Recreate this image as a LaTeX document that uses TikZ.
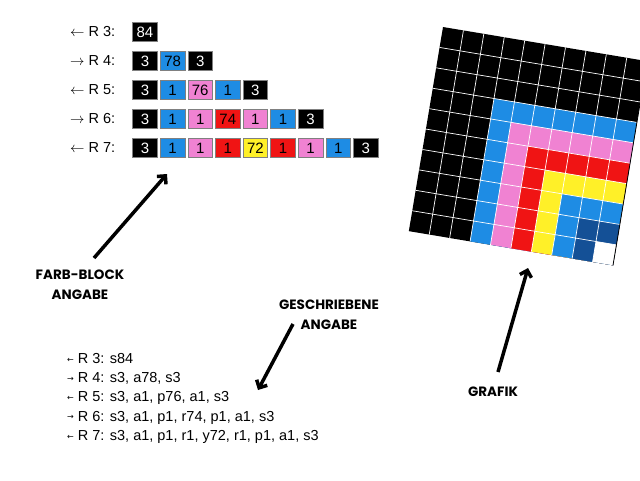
\documentclass[tikz,border=0pt]{standalone}
\usepackage{fontspec}
\setmainfont{Liberation Sans}
\newfontfamily\comicfont{Poppins}
\newfontfamily\pfeilfont{DejaVu Sans}
\usepackage{tikz}
\usetikzlibrary{arrows.meta}
\definecolor{cblau}{RGB}{30,140,228}
\definecolor{crosa}{RGB}{240,130,210}
\definecolor{crot}{RGB}{240,20,20}
\definecolor{cgelb}{RGB}{255,240,40}
\definecolor{cdunkel}{RGB}{20,80,150}
\tikzstyle{feld}=[draw=gray, line width=0.5pt, minimum width=24.6pt, minimum height=19pt, inner sep=0pt, font=\fontsize{15}{15}\selectfont]
\tikzstyle{sw}=[feld, fill=black, text=white]
\tikzstyle{bl}=[feld, fill=cblau]
\tikzstyle{rs}=[feld, fill=crosa]
\tikzstyle{rt}=[feld, fill=crot]
\tikzstyle{ge}=[feld, fill=cgelb]
\tikzstyle{reihe}=[anchor=west, inner sep=0pt, font=\fontsize{14.5}{14.5}\selectfont]
\tikzstyle{hinweis}=[align=center, inner sep=0pt, font=\comicfont\bfseries\fontsize{13.5}{20}\selectfont]
\tikzstyle{pfeil}=[line width=3.5pt, -{Straight Barb[length=6pt,width=12pt]}]
\newcommand{\lpf}{\raisebox{1.5pt}{\pfeilfont\fontsize{8}{8}\selectfont ←}}
\newcommand{\rpf}{\raisebox{1.5pt}{\pfeilfont\fontsize{8}{8}\selectfont →}}

\begin{document}
\begin{tikzpicture}[x=1pt, y=-1pt]
\useasboundingbox (0,0) rectangle (640,480);
\clip (0,0) rectangle (640,480);
% Reihen als Farb-Bloecke
    \node[reihe] (lr3) at (70,32) {$\leftarrow$ R 3:};
    \node[reihe] (lr4) at (70,61) {$\rightarrow$ R 4:};
    \node[reihe] (lr5) at (70,90) {$\leftarrow$ R 5:};
    \node[reihe] (lr6) at (70,119) {$\rightarrow$ R 6:};
    \node[reihe] (lr7) at (70,148) {$\leftarrow$ R 7:};
% R 3
    \node[sw] (r3a) at (145,32) {84};
% R 4
    \node[sw] (r4a) at (145,61) {3};
    \node[bl] (r4b) at (172.6,61) {78};
    \node[sw] (r4c) at (200.2,61) {3};
% R 5
    \node[sw] (r5a) at (145,90) {3};
    \node[bl] (r5b) at (172.6,90) {1};
    \node[rs] (r5c) at (200.2,90) {76};
    \node[bl] (r5d) at (227.8,90) {1};
    \node[sw] (r5e) at (255.4,90) {3};
% R 6
    \node[sw] (r6a) at (145,119) {3};
    \node[bl] (r6b) at (172.6,119) {1};
    \node[rs] (r6c) at (200.2,119) {1};
    \node[rt] (r6d) at (227.8,119) {74};
    \node[rs] (r6e) at (255.4,119) {1};
    \node[bl] (r6f) at (283,119) {1};
    \node[sw] (r6g) at (310.6,119) {3};
% R 7
    \node[sw] (r7a) at (145,148) {3};
    \node[bl] (r7b) at (172.6,148) {1};
    \node[rs] (r7c) at (200.2,148) {1};
    \node[rt] (r7d) at (227.8,148) {1};
    \node[ge] (r7e) at (255.4,148) {72};
    \node[rt] (r7f) at (283,148) {1};
    \node[rs] (r7g) at (310.6,148) {1};
    \node[bl] (r7h) at (338.2,148) {1};
    \node[sw] (r7i) at (365.8,148) {3};
% Geschriebene Reihen
    \node[reihe] (tr3) at (67,359) {\lpf{} R 3: s84};
    \node[reihe] (tr4) at (67,378.5) {\rpf{} R 4: s3, a78, s3};
    \node[reihe] (tr5) at (67,398) {\lpf{} R 5: s3, a1, p76, a1, s3};
    \node[reihe] (tr6) at (67,417.5) {\rpf{} R 6: s3, a1, p1, r74, p1, a1, s3};
    \node[reihe] (tr7) at (67,437) {\lpf{} R 7: s3, a1, p1, r1, y72, r1, p1, a1, s3};
% Grafik
    \begin{scope}[shift={(443,27)}, rotate=-9.5, x=20.7pt, y=-20.7pt]
    \fill[black] (0,0) rectangle (10,10);
    \fill[cblau] (3,3) rectangle (10,10);
    \fill[crosa] (4,4) rectangle (10,10);
    \fill[crot] (5,5) rectangle (10,10);
    \fill[cgelb] (6,6) rectangle (10,10);
    \fill[cblau] (7,7) rectangle (10,10);
    \fill[cdunkel] (8,8) rectangle (10,10);
    \fill[white] (9,9) rectangle (10,10);
    \foreach \i in {1,...,9} {
        \draw[white, line width=0.7pt] (\i,0) -- (\i,10);
        \draw[white, line width=0.7pt] (0,\i) -- (10,\i);
    }
    \draw[black, line width=0.8pt] (10,0) -- (10,10);
    \end{scope}
% Hinweise
    \node[hinweis] (farb) at (80,285) {FARB-BLOCK\\ANGABE};
    \node[hinweis] (geschr) at (329,315) {GESCHRIEBENE\\ANGABE};
    \node[hinweis] (grafik) at (493,392) {GRAFIK};
% Pfeile
    \coordinate (farbfuss) at (94,258);
    \coordinate (farbspitze) at (167,174);
    \coordinate (geschrfuss) at (293,324);
    \coordinate (geschrspitze) at (258,390);
    \coordinate (grafikfuss) at (498,372);
    \coordinate (grafikspitze) at (528,268);
    \draw[pfeil] (farbfuss) -- (farbspitze);
    \draw[pfeil] (geschrfuss) -- (geschrspitze);
    \draw[pfeil] (grafikfuss) -- (grafikspitze);
\end{tikzpicture}
\end{document}
